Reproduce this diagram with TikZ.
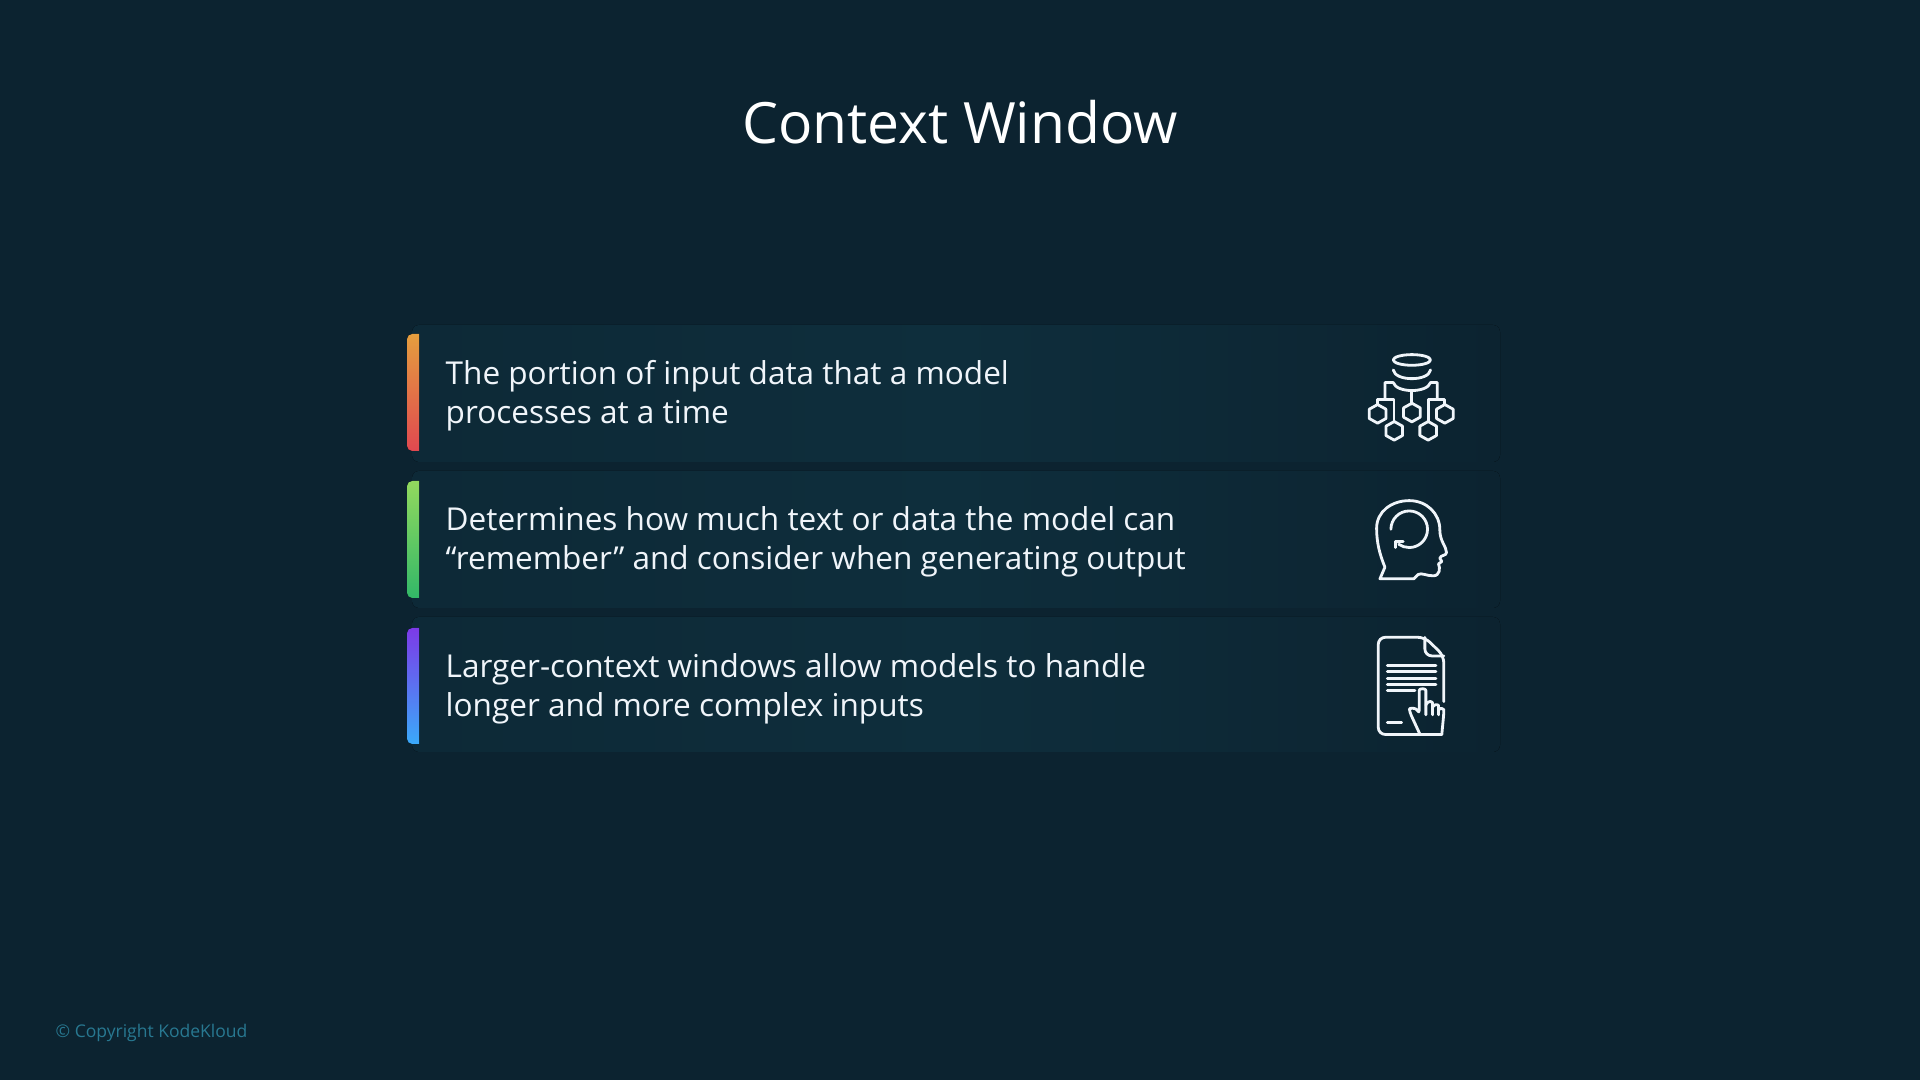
\documentclass[tikz,border=0pt]{standalone}
\usepackage{fontspec}
\setmainfont{Open Sans}
\definecolor{BG}{RGB}{12, 35, 48}
\definecolor{P}{RGB}{14, 46, 60}
\definecolor{Foot}{RGB}{40, 120, 145}
\definecolor{Ink}{RGB}{240, 245, 250}
\definecolor{OrA}{RGB}{229, 158, 62}
\definecolor{OrB}{RGB}{224, 72, 80}
\definecolor{GrA}{RGB}{146, 217, 94}
\definecolor{GrB}{RGB}{50, 184, 104}
\definecolor{PuA}{RGB}{124, 58, 232}
\definecolor{PuB}{RGB}{58, 170, 250}
\tikzset{
	panelbox/.style={rounded corners=2pt, left color=P!55!BG, right color=BG, middle color=P},
	bodytext/.style={anchor=west, inner sep=0, align=left, text=Ink, font=\fontsize{8.97}{11.05}\selectfont},
	iconline/.style={draw=Ink, line width=0.8pt, line join=round, line cap=round},
	zoomed/.style={x=0.003333cm, y=-0.003333cm}
}

\begin{document}
\begin{tikzpicture}[x=0.01cm, y=-0.01cm]
	\useasboundingbox (0,0) rectangle (1920,1080);
	\fill[color=BG] (0,0) rectangle (1920,1080);

	\node[text=white, inner sep=0, font=\fontsize{16.2}{20}\selectfont] (title) at (960,122) {Context Window};

	%Paneles
	\fill[panelbox] (412,325) rectangle (1500,462);
	\fill[panelbox] (412,471) rectangle (1500,608);
	\fill[panelbox] (412,617) rectangle (1500,752);

	%Barras de color
	\fill[top color=OrA, bottom color=OrB] (419,334) {[rounded corners=1.5pt] -- (407,334) -- (407,451)} -- (419,451) -- cycle;
	\fill[top color=GrA, bottom color=GrB] (419,481) {[rounded corners=1.5pt] -- (407,481) -- (407,598)} -- (419,598) -- cycle;
	\fill[top color=PuA, bottom color=PuB] (419,628) {[rounded corners=1.5pt] -- (407,628) -- (407,744)} -- (419,744) -- cycle;

	%Textos
	\node[bodytext] (textA) at (445,396) {The portion of input data that a model\\processes at a time};
	\node[bodytext] (textB) at (445,542) {Determines how much text or data the model can\\“remember” and consider when generating output};
	\node[bodytext] (textC) at (445,689) {Larger-context windows allow models to handle\\longer and more complex inputs};

	%Icono datos
	\begin{scope}[shift={(1340,330)}, zoomed]
		\draw[iconline] (216,90) ellipse (56 and 16);
		\draw[iconline] (160,120) .. controls (165,155) and (267,155) .. (272,120);
		\draw[iconline] (135,208) -- (135,158) -- (160,158) .. controls (170,190) and (262,190) .. (272,158) -- (292,158) -- (292,208);
		\draw[iconline] (216,183) -- (216,222);
		\draw[iconline] (113,224) -- (113,208) -- (162,208) -- (162,276);
		\draw[iconline] (315,224) -- (315,208) -- (265,208) -- (265,276);
		\foreach \hx/\hy in {113/252, 216/248, 315/252, 163/303, 265/303}
			\draw[iconline] (\hx,\hy-28) -- (\hx+25,\hy-14) -- (\hx+25,\hy+14) -- (\hx,\hy+28) -- (\hx-25,\hy+14) -- (\hx-25,\hy-14) -- cycle;
	\end{scope}

	%Icono cabeza
	\begin{scope}[shift={(1340,480)}, zoomed]
		\draw[iconline] (120,297) -- (135,262) .. controls (120,225) and (110,190) .. (110,145) .. controls (110,95) and (155,62) .. (208,62) .. controls (260,62) and (300,100) .. (300,150) .. controls (300,185) and (320,200) .. (320,218) .. controls (320,228) and (302,225) .. (300,235) -- (306,245) -- (296,252) .. controls (302,265) and (300,288) .. (280,288) .. controls (260,288) and (245,278) .. (235,284) -- (222,297) -- cycle;
		\draw[iconline] (153,148) arc[start angle=180, end angle=-125, x radius=55, y radius=-55];
		\draw[iconline] (167,203) -- (167,184) -- (190,184);
	\end{scope}

	%Icono documento
	\begin{scope}[shift={(1340,620)}, zoomed]
		\draw[iconline, rounded corners=2pt] (312,245) -- (312,108) -- (255,52) -- (115,52) -- (115,344) -- (240,344);
		\draw[iconline, rounded corners=2pt] (255,52) -- (255,108) -- (312,108);
		\foreach \ly in {137,155,175,193}
			\draw[iconline] (142,\ly) -- (288,\ly);
		\draw[iconline] (142,211) -- (225,211);
		\draw[iconline] (142,307) -- (185,307);
		\draw[iconline, rounded corners=1pt] (240,343) -- (210,278) .. controls (208,265) and (228,262) .. (238,282) -- (238,222) .. controls (238,205) and (258,205) .. (258,222) -- (258,285);
		\draw[iconline, rounded corners=1pt] (258,255) .. controls (265,240) and (278,245) .. (278,260) -- (278,285);
		\draw[iconline, rounded corners=1pt] (278,262) .. controls (285,250) and (296,255) .. (296,268) -- (296,285);
		\draw[iconline, rounded corners=1pt] (296,270) .. controls (303,262) and (312,268) .. (312,280) -- (306,343);
		\draw[iconline] (240,343) -- (306,343);
	\end{scope}

	\node[anchor=west, inner sep=0, text=Foot, font=\fontsize{4.98}{6.5}\selectfont] (copyright) at (55,1033) {© Copyright KodeKloud};
\end{tikzpicture}
\end{document}
